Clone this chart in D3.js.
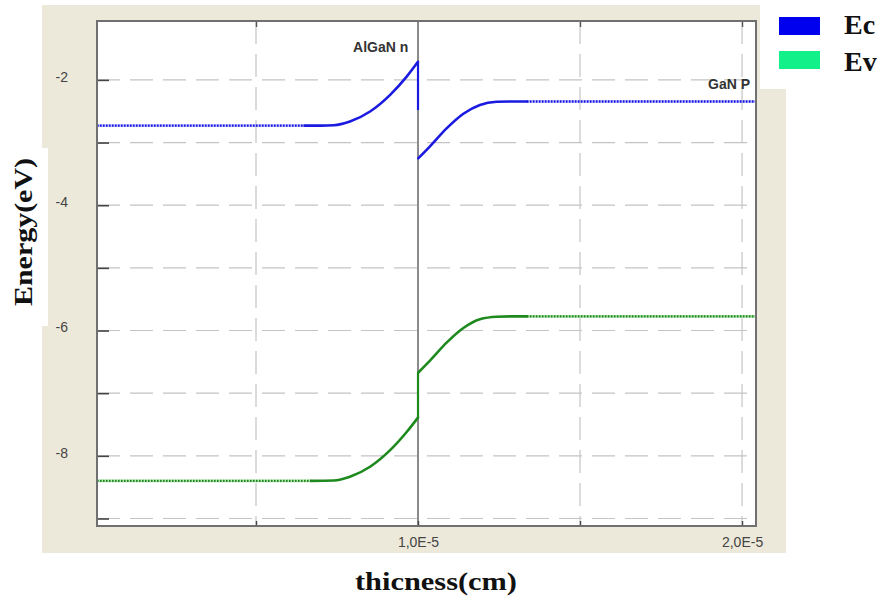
<!DOCTYPE html>
<html>
<head>
<meta charset="utf-8">
<script src="https://cdn.jsdelivr.net/npm/d3@7"></script>
<style>
  html, body { margin: 0; padding: 0; background: #ffffff; }
  svg { display: block; }
</style>
</head>
<body>
<script>
// ---------------- data (x in units of 1e-5 cm, energy in eV) ----------------
const xDomain = [0.0093, 2.04];
const yDomain = [-9.12, -1.06];
const yGridValues = [-9, -8, -7, -6, -5, -4, -3, -2];
const yLabelValues = [-2, -4, -6, -8];
const xGridValues = [0.5, 1.5, 2.0];
const junctionX = 1.0;
const xTickValues = [0.5, 1.0, 1.5, 2.0];
const xTickLabels = { 1.0: "1,0E-5", 2.0: "2,0E-5" };

// Ec (conduction band)
const ecLeftX = [0.65, 0.70, 0.74, 0.79, 0.852, 0.914, 0.965, 1.0];
const ecLeftE = [-2.73, -2.73, -2.725, -2.665, -2.505, -2.239, -1.947, -1.71];
const ecStepE = [-1.71, -2.48];
const ecRightX = [1.001, 1.037, 1.089, 1.140, 1.191, 1.243, 1.284, 1.336];
const ecRightE = [-3.25, -3.06, -2.77, -2.54, -2.40, -2.35, -2.345, -2.345];

// Ev (valence band)
const evLeftX = [0.67, 0.74, 0.79, 0.852, 0.914, 0.965, 1.0];
const evLeftE = [-8.40, -8.395, -8.335, -8.175, -7.91, -7.62, -7.39];
const evStepE = [-7.39, -6.67];
const evRightX = [1.001, 1.037, 1.089, 1.140, 1.191, 1.243, 1.284, 1.336];
const evRightE = [-6.67, -6.48, -6.19, -5.96, -5.82, -5.78, -5.775, -5.775];

const legendNames = ["Ec", "Ev"];
const legendColors = ["#0000ee", "#12f08a"];
const annotations = [
  { text: "AlGaN n", x: 0.97, e: -1.55 },
  { text: "GaN P", x: 2.025, e: -2.15 }
];

// ---------------- layout ----------------
const W = 884, H = 604;
const plot = { left: 97, right: 756, top: 21, bottom: 526 };
const svg = d3.select("body").append("svg").attr("width", W).attr("height", H);

// beige panel
svg.append("rect").attr("x", 42).attr("y", 5).attr("width", 744).attr("height", 548).attr("fill", "#ece9da");
// white overlays (label / legend boxes)
svg.append("rect").attr("x", 0).attr("y", 148).attr("width", 48).attr("height", 178).attr("fill", "#ffffff");
svg.append("rect").attr("x", 760).attr("y", 0).attr("width", 124).attr("height", 89).attr("fill", "#ffffff");

// plot area
svg.append("rect").attr("x", plot.left).attr("y", plot.top)
  .attr("width", plot.right - plot.left).attr("height", plot.bottom - plot.top)
  .attr("fill", "#ffffff");

const x = d3.scaleLinear().domain(xDomain).range([plot.left, plot.right - 1]);
const y = d3.scaleLinear().domain(yDomain).range([plot.bottom, plot.top]);

// horizontal grid
const gGrid = svg.append("g");
gGrid.selectAll("line.h").data(yGridValues).join("line")
  .attr("x1", plot.left).attr("x2", plot.right)
  .attr("y1", d => y(d)).attr("y2", d => y(d))
  .attr("stroke", "#c4c4c4").attr("stroke-width", 1.2).attr("stroke-dasharray", "23,10");
// vertical grid
gGrid.selectAll("line.v").data(xGridValues).join("line")
  .attr("x1", d => x(d)).attr("x2", d => x(d))
  .attr("y1", plot.top).attr("y2", plot.bottom)
  .attr("stroke", "#c4c4c4").attr("stroke-width", 1.2).attr("stroke-dasharray", "23,10");
// junction line
svg.append("line").attr("x1", x(junctionX)).attr("x2", x(junctionX))
  .attr("y1", plot.top).attr("y2", plot.bottom)
  .attr("stroke", "#6e6e6e").attr("stroke-width", 1.6);

// y axis (inside ticks)
const yAxis = d3.axisLeft(y).tickValues(yGridValues).tickSize(-12).tickPadding(29)
  .tickFormat(d => yLabelValues.includes(d) ? String(d) : "");
const gy = svg.append("g").attr("transform", `translate(${plot.left},0)`).call(yAxis);
gy.select(".domain").remove();
gy.selectAll(".tick line").attr("stroke", "#444").attr("stroke-width", 1.6);
gy.selectAll(".tick text").attr("font-family", "Liberation Sans, Arial, sans-serif")
  .attr("font-size", 14).attr("fill", "#444").attr("dy", "0.1em");

// x axis
const xAxis = d3.axisBottom(x).tickValues(xTickValues).tickSize(-5).tickPadding(11)
  .tickFormat(d => xTickLabels[d] || "");
const gx = svg.append("g").attr("transform", `translate(0,${plot.bottom})`).call(xAxis);
gx.select(".domain").remove();
gx.selectAll(".tick line").attr("stroke", "#444").attr("stroke-width", 1.4);
gx.selectAll(".tick text").attr("font-family", "Liberation Sans, Arial, sans-serif")
  .attr("font-size", 14).attr("fill", "#444");
// top ticks
const xTop = d3.axisTop(x).tickValues(xGridValues).tickSize(-6).tickFormat("");
const gt = svg.append("g").attr("transform", `translate(0,${plot.top})`).call(xTop);
gt.select(".domain").remove();
gt.selectAll(".tick line").attr("stroke", "#555").attr("stroke-width", 1.4);

// ---------------- curves ----------------
const line = d3.line().x(d => x(d[0])).y(d => y(d[1])).curve(d3.curveMonotoneX);
const straight = d3.line().x(d => x(d[0])).y(d => y(d[1]));
const zip = (xs, es) => xs.map((v, i) => [v, es[i]]);

function band(leftX, leftE, stepE, rightX, rightE, solidColor, dotColor) {
  const g = svg.append("g");
  // dotted flat extensions
  const dotted = [
    [[xDomain[0], leftE[0]], [leftX[0], leftE[0]]],
    [[rightX[rightX.length - 1], rightE[rightE.length - 1]], [xDomain[1], rightE[rightE.length - 1]]]
  ];
  dotted.forEach(seg => {
    g.append("path").attr("d", straight(seg)).attr("fill", "none")
      .attr("stroke", dotColor).attr("stroke-width", 2.6).attr("opacity", 0.55);
    g.append("path").attr("d", straight(seg)).attr("fill", "none")
      .attr("stroke", solidColor).attr("stroke-width", 2.4).attr("stroke-dasharray", "1.6,1.4");
  });
  g.append("path").attr("d", line(zip(leftX, leftE))).attr("fill", "none")
    .attr("stroke", solidColor).attr("stroke-width", 2.6).attr("stroke-linecap", "round");
  g.append("path").attr("d", straight(stepE.map(e => [junctionX, e]))).attr("fill", "none")
    .attr("stroke", solidColor).attr("stroke-width", 2.2);
  g.append("path").attr("d", line(zip(rightX, rightE))).attr("fill", "none")
    .attr("stroke", solidColor).attr("stroke-width", 2.6).attr("stroke-linecap", "round");
}
band(ecLeftX, ecLeftE, ecStepE, ecRightX, ecRightE, "#1a1ae0", "#7a7af5");
band(evLeftX, evLeftE, evStepE, evRightX, evRightE, "#1e8a1e", "#6cc86c");

// plot border
svg.append("rect").attr("x", plot.left).attr("y", plot.top)
  .attr("width", plot.right - plot.left).attr("height", plot.bottom - plot.top)
  .attr("fill", "none").attr("stroke", "#707070").attr("stroke-width", 2);

// annotations
svg.selectAll("text.ann").data(annotations).join("text")
  .attr("x", d => x(d.x)).attr("y", d => y(d.e))
  .attr("text-anchor", "end")
  .attr("font-family", "Liberation Sans, Arial, sans-serif").attr("font-weight", "bold")
  .attr("font-size", 14).attr("fill", "#333")
  .text(d => d.text);

// axis titles
svg.append("text").attr("x", 436).attr("y", 590).attr("text-anchor", "middle")
  .attr("font-family", "Liberation Serif, Times New Roman, serif").attr("font-weight", "bold")
  .attr("font-size", 25).attr("fill", "#111")
  .attr("textLength", 162).attr("lengthAdjust", "spacingAndGlyphs")
  .text("thicness(cm)");
svg.append("text").attr("transform", "translate(32,232) rotate(-90)").attr("text-anchor", "middle")
  .attr("font-family", "Liberation Serif, Times New Roman, serif").attr("font-weight", "bold")
  .attr("font-size", 25).attr("fill", "#111")
  .attr("textLength", 148).attr("lengthAdjust", "spacingAndGlyphs")
  .text("Energy(eV)");

// legend
const leg = svg.append("g");
legendNames.forEach((name, i) => {
  leg.append("rect").attr("x", 779).attr("y", 17 + i * 34).attr("width", 41).attr("height", 18)
    .attr("fill", legendColors[i]);
  leg.append("text").attr("x", 844).attr("y", 34 + i * 37)
    .attr("font-family", "Liberation Serif, Times New Roman, serif").attr("font-weight", "bold")
    .attr("font-size", 28).attr("fill", "#111").text(name);
});
</script>
</body>
</html>
